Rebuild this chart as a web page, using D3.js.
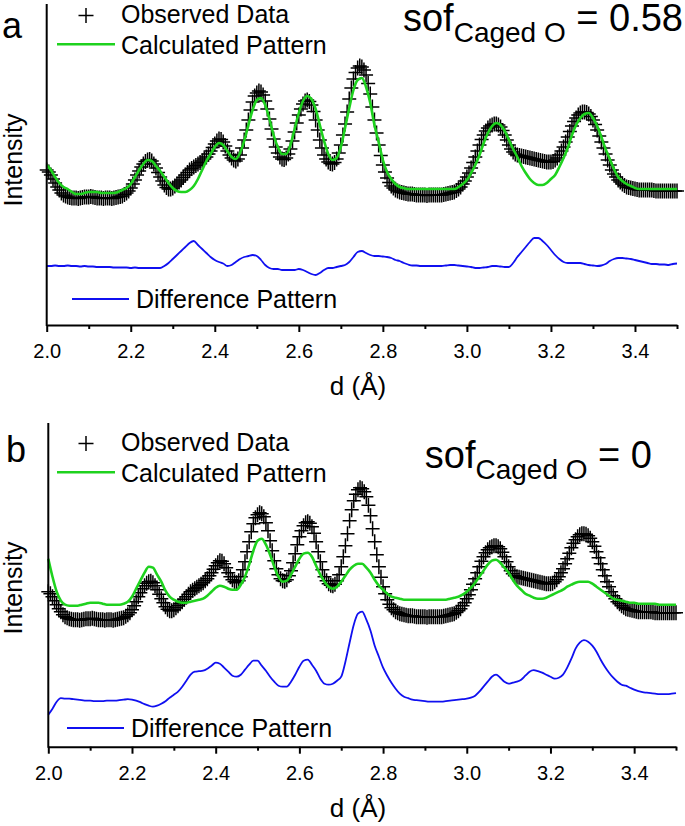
<html>
<head>
    <meta charset="UTF-8">
    <script src="https://d3js.org/d3.v7.min.js"></script>
    <title>Rietveld fit</title>
    <style>
        body { margin: 0; background: white; }
        text { font-family: "Liberation Sans", Arial, sans-serif; fill: black; }
    </style>
</head>
<body>
    <svg id="chart" width="685" height="826"></svg>

    <script>
        // d-spacing grids: observed every 0.005, fits every 0.01
        const obsGrid = d3.range(0, 301).map(i => +(2 + i * 0.005).toFixed(3));
        const dGrid = d3.range(0, 151).map(i => +(2 + i * 0.01).toFixed(2));

        // observed intensities (same data in both panels), one row = 0.1 A
        const observed = [
            155, 153, 150, 146, 142, 138, 135, 132, 130, 129, 128, 127.5, 127, 127, 127, 126.5, 127, 127.5, 128, 128,
            128, 128.5, 128, 127.5, 127, 127, 127, 126.5, 127, 127, 127, 126.5, 127, 127.5, 128, 128.5, 129, 130.5, 132, 134,
            137, 141, 145, 150, 154, 158, 161, 163.5, 165, 165.5, 164, 161, 157, 152.5, 148, 144, 140, 137.5, 136, 136,
            137, 139, 141, 143, 145, 147.5, 150, 152.5, 155, 156.5, 158, 159.5, 161, 162.5, 164, 166, 168, 171, 174, 177.5,
            181, 184, 186, 185.5, 183, 179, 174, 170, 167, 165, 164, 166, 170, 177, 185, 195, 205, 215, 223, 229,
            232, 234, 233, 230, 224, 216, 206, 196, 186, 178, 172, 168, 166, 165.5, 167, 171, 176, 184, 193, 202,
            210, 216, 221, 224, 225, 223.5, 220, 213.5, 205, 195, 185, 177, 170, 166, 163, 161.5, 161, 162.5, 166, 172,
            180, 190, 201, 213, 226, 237, 246, 252.5, 257, 259, 258, 255, 250, 241.5, 231, 218, 205, 192, 180, 169.5,
            160, 153, 147, 142.5, 139, 137, 135, 134, 133, 132.5, 132, 131.5, 131, 131, 131, 130.5, 130, 130, 130, 130,
            130, 129.5, 130, 130, 130, 130, 130, 130, 130, 130.5, 131, 131.5, 132, 132.5, 133, 134.5, 136, 138, 141, 144,
            148, 152, 157, 162.5, 168, 174, 180, 185.5, 190, 194, 197, 199, 200, 201, 201, 200, 198, 194.5, 190, 185,
            180, 176, 173, 171, 170, 169.5, 169, 168.5, 168, 167.5, 167, 166.5, 166, 165.5, 165, 164.5, 164, 163.5, 163, 163,
            163, 163.5, 165, 167, 170, 174, 178, 183, 188, 193.5, 199, 203.5, 207, 210, 212, 213, 213, 212.5, 211, 208.5,
            205, 200.5, 195, 189, 183, 177, 171, 165, 160, 155, 151, 148, 145, 143, 141, 139.5, 138, 137.5, 137, 136.5,
            136, 135.5, 135, 135, 135, 135, 135, 135, 135, 134.5, 134, 134, 134, 134, 134, 134, 134, 134, 134, 134,
            134
        ];

        // calculated pattern, sof = 0.58
        const calcA = [
            160, 155, 148, 142, 138, 136, 133, 131, 131, 132,
            133, 133, 133, 132, 132, 132, 132, 133, 135, 137,
            141, 148, 155, 161, 165, 164, 159, 154, 148, 142,
            137, 134, 133, 133, 135, 139, 146, 155, 164, 171,
            178, 182, 180, 174, 168, 166, 172, 184, 200, 215,
            225, 227, 220, 206, 190, 178, 171, 171, 180, 196,
            212, 224, 229, 226, 216, 200, 184, 171, 165, 167,
            178, 197, 217, 235, 245, 247, 238, 222, 200, 183,
            165, 153, 146, 141, 138, 137, 136, 136, 136, 136,
            136, 136, 136, 136, 136, 136, 136, 136, 138, 141,
            145, 152, 160, 170, 182, 192, 199, 202, 200, 194,
            185, 176, 168, 159, 152, 146, 142, 140, 140, 142,
            146, 150, 158, 167, 177, 190, 200, 207, 211, 212,
            207, 199, 188, 176, 166, 156, 148, 144, 141, 139,
            137, 136, 136, 136, 136, 136, 136, 136, 136, 136,
            136
        ];

        // calculated pattern, sof = 0
        const calcB = [
            188, 170, 155, 146, 142, 141, 141, 141, 142, 143,
            144, 144, 144, 143, 142, 142, 142, 142, 143, 145,
            150, 158, 166, 174, 180, 179, 172, 165, 156, 150,
            147, 145, 144, 144, 145, 146, 147, 148, 151, 155,
            159, 161, 160, 158, 157, 157, 162, 170, 182, 196,
            206, 208, 202, 192, 180, 170, 165, 166, 172, 180,
            188, 193, 194, 190, 181, 172, 165, 160, 158, 160,
            165, 171, 177, 181, 183, 183, 179, 174, 167, 161,
            157, 153, 150, 149, 148, 147, 147, 147, 147, 147,
            147, 147, 147, 147, 147, 147, 148, 149, 150, 152,
            155, 159, 164, 170, 176, 182, 186, 187, 184, 179,
            174, 167, 161, 157, 153, 151, 149, 148, 148, 149,
            151, 153, 155, 157, 160, 162, 164, 165, 165, 165,
            163, 160, 157, 154, 151, 148, 147, 146, 145, 144,
            144, 143, 143, 143, 143, 143, 142, 142, 142, 142,
            142
        ];

        // difference patterns (already offset)
        const diffA = [
            59, 59, 59.5, 59, 59, 59.5, 59, 59, 58.5, 59,
            58.5, 58.5, 58, 58, 58, 58, 57.5, 57.5, 57.5, 57.5,
            57, 57.5, 57, 57, 57, 57, 57, 57, 59, 62,
            66, 70, 74, 78, 82, 84, 80, 76, 72, 68,
            65, 63, 61.5, 59, 60, 63, 66, 68, 69, 70,
            69, 65, 60, 57, 56, 56, 55, 55, 55, 55,
            56, 55, 53, 51, 50, 52, 55, 57, 57, 58,
            59, 60, 63, 68, 73, 74, 72, 70, 69, 69,
            68.5, 68, 67, 65, 64, 62, 60.5, 59.5, 59.5, 59,
            59, 59, 59, 59, 59, 59.5, 60, 60, 59.5, 59,
            58.5, 58, 57, 57, 57.5, 58, 59, 59, 58.5, 58,
            58, 62, 68, 73, 78, 83, 87, 87, 84, 80,
            75, 70, 66, 63, 62, 62, 62, 62, 61, 60,
            59.5, 59, 59.5, 61, 64, 66, 67, 67, 66.5, 66,
            65, 64, 63, 62, 61, 61, 60.5, 60.5, 60, 61,
            61.5
        ];

        const diffB = [
            32, 38, 45, 48.5, 48, 48, 47.5, 47, 46.5, 46,
            46, 45.5, 45.5, 45.5, 46, 46, 46, 46.5, 47, 47.5,
            47, 46, 44.5, 42.5, 41, 40, 41, 43, 45.5, 49,
            52, 55, 60, 66, 72, 75, 75.5, 76, 78, 81,
            84, 83, 79, 75, 71, 70, 72, 77, 82, 86,
            86, 81, 76, 70, 65, 61, 60, 60, 65, 72,
            80, 86, 87, 82, 76, 68, 63, 62, 63, 66,
            70, 85, 104, 122, 133, 135, 127, 116, 101, 90,
            79, 71, 64, 58, 53, 50, 48.5, 47, 46.5, 46,
            45.5, 45, 45, 45, 45, 45.5, 46, 46.5, 47, 47.5,
            48, 49, 51, 55, 60, 65, 70, 72, 69, 65,
            63, 64, 65, 67, 71, 75, 76.5, 75.5, 74, 72,
            70, 68, 69, 72, 79, 88, 98, 104, 106.5, 105,
            101, 95, 87, 80, 74, 69, 65, 62, 61, 59,
            57, 55.5, 54.5, 54, 53.5, 53, 52.5, 52.5, 52.5, 53,
            53.5
        ];

        const majorTicks = [2.0, 2.2, 2.4, 2.6, 2.8, 3.0, 3.2, 3.4];
        const minorTicks = [2.1, 2.3, 2.5, 2.7, 2.9, 3.1, 3.3, 3.5];
        const legendNames = ['Observed Data', 'Calculated Pattern', 'Difference Pattern'];

        const panels = [
            {
                label: 'a', sof: '0.58', calc: calcA, diff: diffA,
                x0: 46.7, x1: 677, axisY: 325, topY: 4,
                labelPos: [2, 38], sofPos: [683, 31], intensityY: 160,
                legendY: 0, diffLegendY: 299, diffLegendX: 72
            },
            {
                label: 'b', sof: '0', calc: calcB, diff: diffB,
                x0: 48.3, x1: 676, axisY: 746.7, topY: 423,
                labelPos: [6, 462], sofPos: [652, 468], intensityY: 588,
                legendY: 428, diffLegendY: 728, diffLegendX: 67
            }
        ];

        const svg = d3.select('#chart');
        panels.forEach(drawPanel);

        function drawPanel(p) {
            const g = svg.append('g');
            const x = d3.scaleLinear().domain([2, 3.5]).range([p.x0, p.x1]);
            const y = d3.scaleLinear().domain([0, 320]).range([p.axisY, p.axisY - 320]);

            // observed: "+" markers
            const cross = 'M-7,0H7M0,-7.5V7.5';
            g.append('g').selectAll('path')
                .data(observed)
                .join('path')
                .attr('transform', (d, i) => 'translate(' + x(obsGrid[i]) + ',' + y(d) + ')')
                .attr('d', cross)
                .attr('stroke', 'black')
                .attr('stroke-width', 1.5)
                .attr('fill', 'none');

            const line = d3.line()
                .x((d, i) => x(dGrid[i]))
                .y(d => y(d))
                .curve(d3.curveMonotoneX);

            g.append('path')
                .datum(p.calc)
                .attr('d', line)
                .attr('fill', 'none')
                .attr('stroke', '#1ed21e')
                .attr('stroke-width', 2.6);

            g.append('path')
                .datum(p.diff)
                .attr('d', line)
                .attr('fill', 'none')
                .attr('stroke', '#1010f0')
                .attr('stroke-width', 1.8);

            // axes
            const xAxis = d3.axisBottom(x)
                .tickValues(majorTicks)
                .tickFormat(d3.format('.1f'))
                .tickSize(7)
                .tickSizeOuter(0);
            const ax = g.append('g')
                .attr('transform', 'translate(0,' + p.axisY + ')')
                .call(xAxis);
            ax.select('.domain').attr('stroke-width', 2);
            ax.selectAll('.tick line').attr('stroke-width', 2);
            ax.selectAll('.tick text')
                .attr('dy', null)
                .attr('y', 33)
                .style('font-size', '20px')
                .style('font-family', '"Liberation Sans", Arial, sans-serif');

            const minor = g.append('g')
                .attr('transform', 'translate(0,' + p.axisY + ')')
                .call(d3.axisBottom(x).tickValues(minorTicks).tickSize(4).tickFormat(''));
            minor.select('.domain').remove();
            minor.selectAll('.tick line').attr('stroke-width', 2);

            g.append('line')
                .attr('x1', p.x0).attr('x2', p.x0)
                .attr('y1', p.topY).attr('y2', p.axisY + 1)
                .attr('stroke', 'black')
                .attr('stroke-width', 2);

            g.append('text')
                .attr('x', 358)
                .attr('y', p.axisY + 70)
                .attr('text-anchor', 'middle')
                .style('font-size', '26px')
                .text('d (Å)');

            g.append('text')
                .attr('transform', 'translate(22,' + p.intensityY + ') rotate(-90)')
                .attr('text-anchor', 'middle')
                .style('font-size', '25px')
                .text('Intensity');

            // panel letter
            g.append('text')
                .attr('x', p.labelPos[0])
                .attr('y', p.labelPos[1])
                .style('font-size', '36px')
                .text(p.label);

            // sof annotation
            const sof = g.append('text')
                .attr('x', p.sofPos[0])
                .attr('y', p.sofPos[1])
                .attr('text-anchor', 'end')
                .style('font-size', '38px');
            sof.append('tspan').text('sof');
            sof.append('tspan').attr('dy', 11).style('font-size', '28px').text('Caged O');
            sof.append('tspan').attr('dy', -11).text(' = ' + p.sof);

            // legend
            const ly = p.legendY;
            g.append('path')
                .attr('transform', 'translate(86,' + (ly + 15.5) + ')')
                .attr('d', 'M-7.5,0H7.5M0,-7.5V7.5')
                .attr('stroke', 'black')
                .attr('stroke-width', 1.5);
            g.append('text').attr('x', 121).attr('y', ly + 23)
                .style('font-size', '25px').text(legendNames[0]);
            g.append('line')
                .attr('x1', 57).attr('x2', 115)
                .attr('y1', ly + 44.3).attr('y2', ly + 44.3)
                .attr('stroke', '#1ed21e').attr('stroke-width', 2.6);
            g.append('text').attr('x', 121).attr('y', ly + 54)
                .style('font-size', '25px').text(legendNames[1]);

            g.append('line')
                .attr('x1', p.diffLegendX).attr('x2', p.diffLegendX + 57)
                .attr('y1', p.diffLegendY).attr('y2', p.diffLegendY)
                .attr('stroke', '#1010f0').attr('stroke-width', 1.8);
            g.append('text').attr('x', p.diffLegendX + 64).attr('y', p.diffLegendY + 8.5)
                .style('font-size', '25px').text(legendNames[2]);
        }
    </script>
</body>
</html>
